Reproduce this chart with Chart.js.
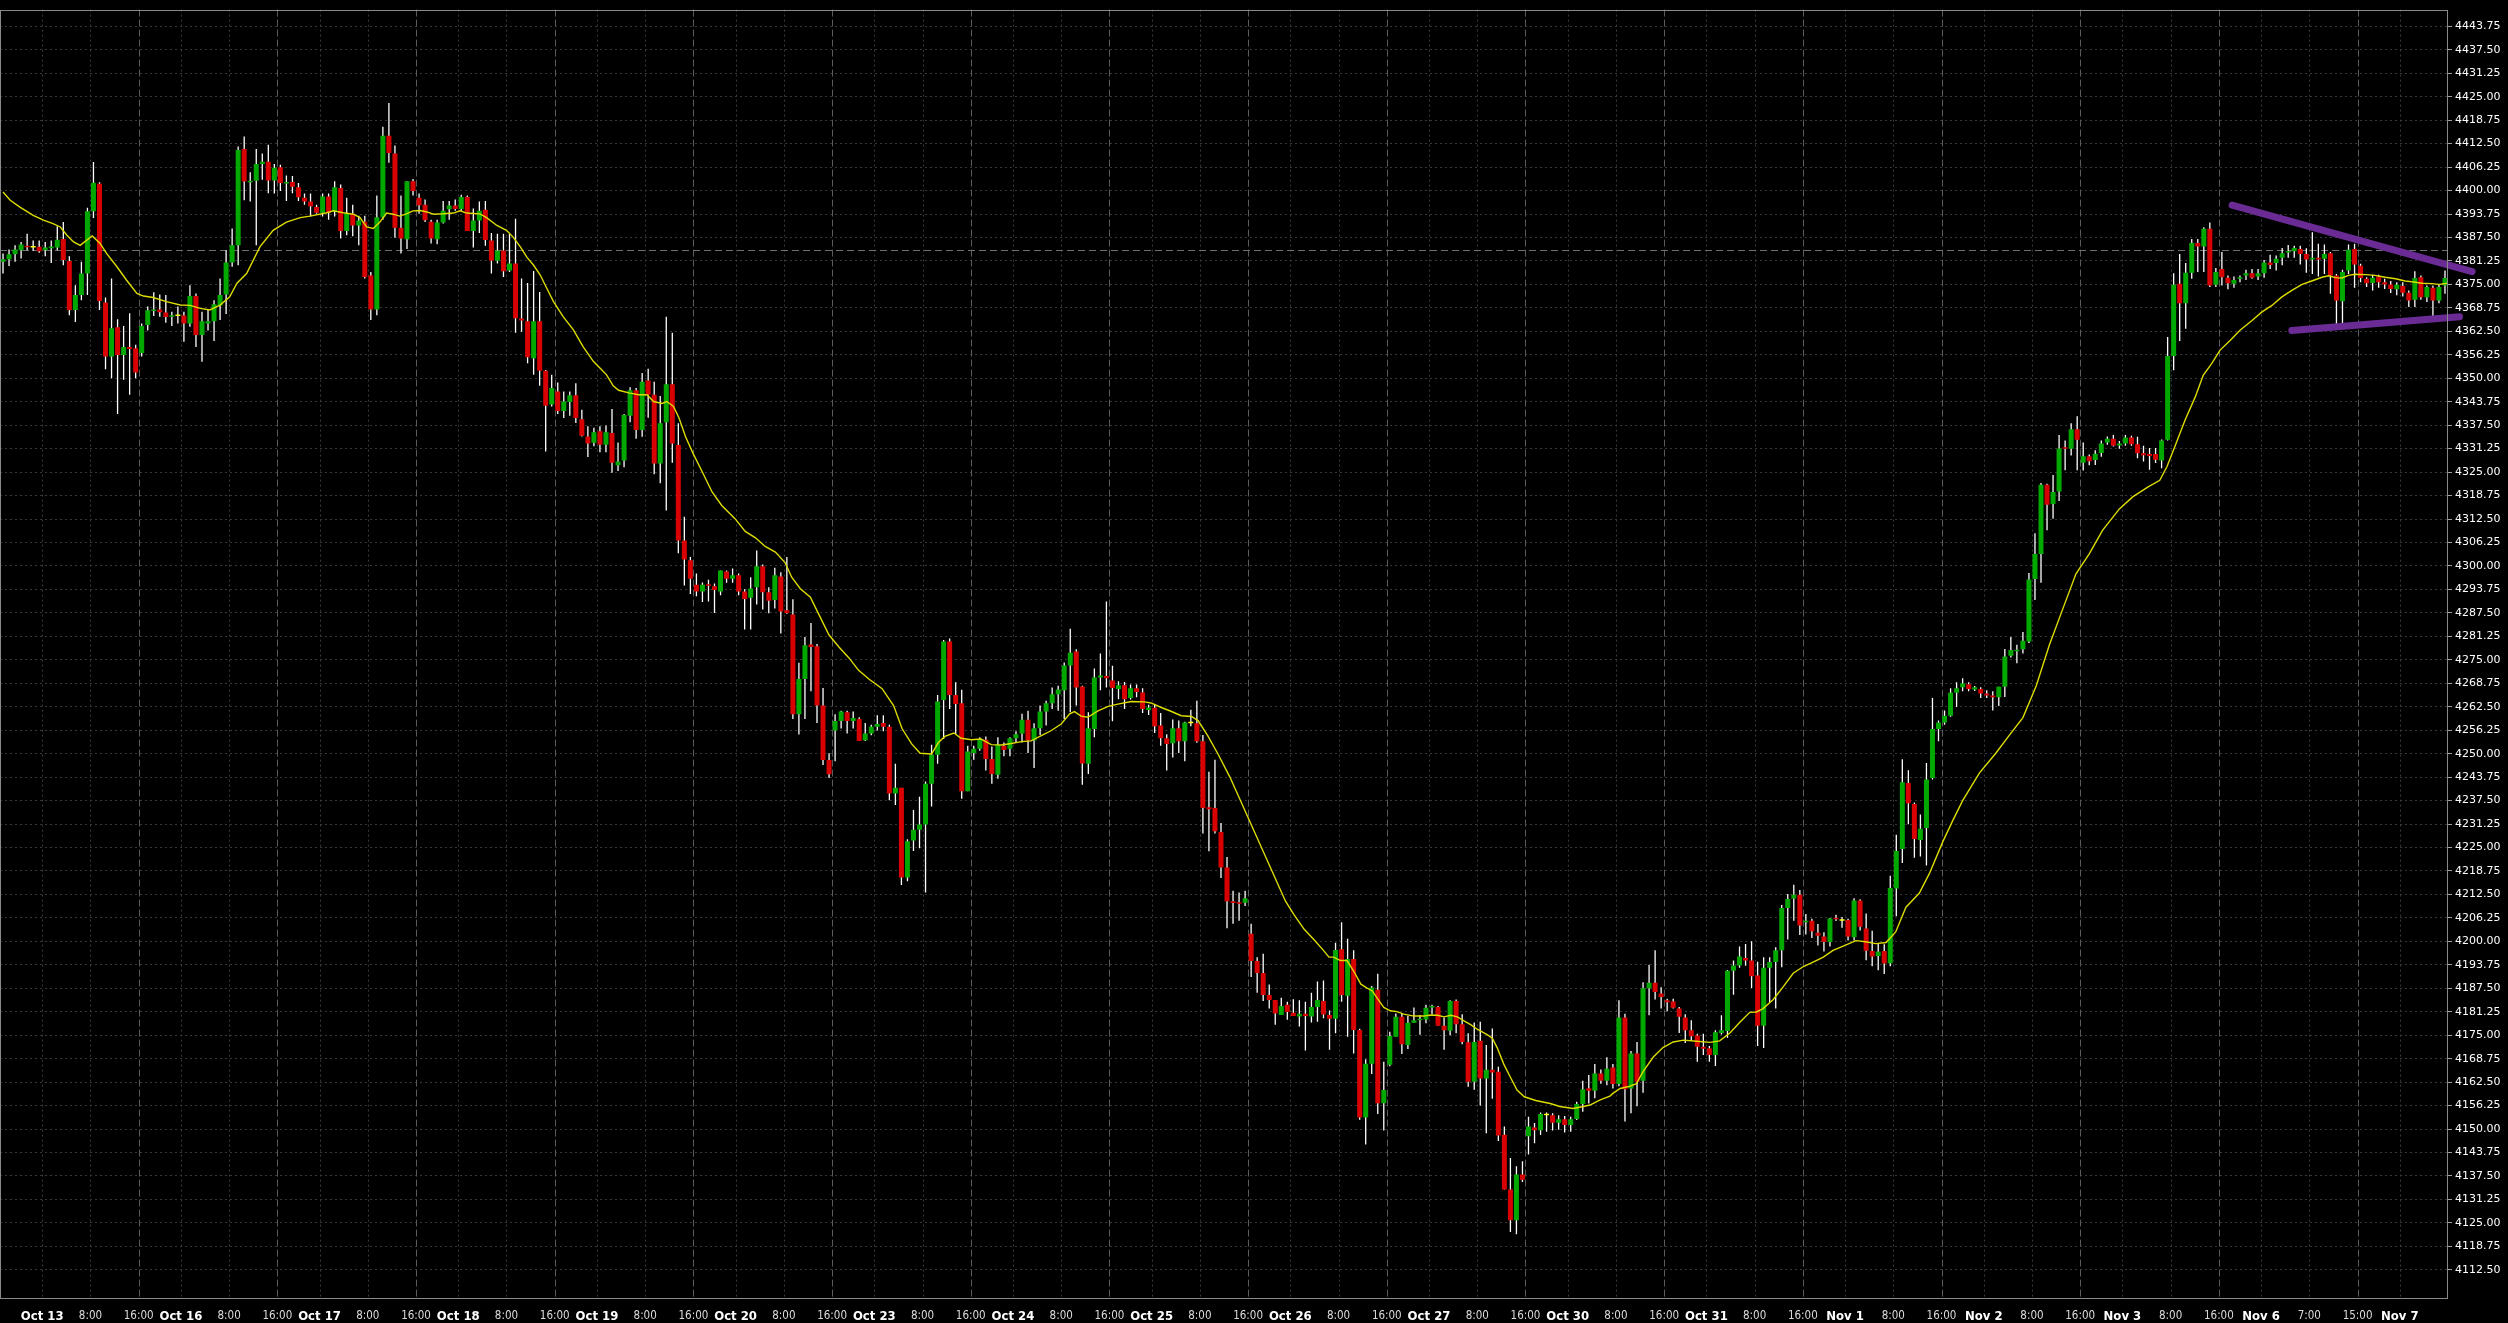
<!DOCTYPE html>
<html>
<head>
<meta charset="utf-8">
<title>ES hourly</title>
<script src="https://cdn.jsdelivr.net/npm/chart.js@4.4.1/dist/chart.umd.min.js"></script>
<style>
    html, body { margin: 0; padding: 0; background: #000; }
    #wrap { width: 2508px; height: 1323px; }
</style>
</head>
<body>
<div id="wrap"><canvas id="chart" width="2508" height="1323"></canvas></div>
<script>
// Hourly bars, Oct 12 18:00 -> Nov 7 (406 bars)
const opens = [
    4381.0, 4381.7, 4383.0, 4384.1, 4385.3, 4384.8, 4385.0, 4384.1, 4384.6, 4384.8,
    4387.1, 4381.2, 4368.2, 4372.2, 4377.9, 4394.5, 4401.8, 4370.2, 4355.8, 4363.6,
    4356.2, 4358.3, 4358.0, 4356.7, 4364.2, 4367.9, 4368.3, 4367.5, 4366.4, 4366.6,
    4366.7, 4364.6, 4371.9, 4361.5, 4364.6, 4365.2, 4369.4, 4372.3, 4380.8, 4385.4,
    4411.1, 4402.2, 4402.6, 4407.1, 4407.7, 4402.7, 4406.2, 4401.9, 4402.3, 4400.9,
    4398.1, 4397.1, 4395.6, 4394.1, 4398.4, 4394.5, 4400.7, 4389.2, 4393.8, 4390.7,
    4391.7, 4377.4, 4368.3, 4392.9, 4414.6, 4409.9, 4390.1, 4387.0, 4402.5, 4398.1,
    4396.2, 4391.7, 4387.0, 4391.5, 4395.0, 4396.0, 4395.1, 4398.3, 4389.2, 4392.0,
    4394.9, 4386.7, 4381.3, 4384.0, 4378.7, 4380.6, 4365.9, 4365.2, 4355.3, 4365.2,
    4352.0, 4343.0, 4346.5, 4341.3, 4343.7, 4345.5, 4339.1, 4334.5, 4332.8, 4335.9,
    4332.3, 4335.4, 4326.8, 4328.1, 4340.0, 4346.8, 4336.2, 4349.4, 4345.6, 4327.3,
    4338.3, 4348.4, 4332.2, 4306.8, 4301.5, 4295.0, 4293.2, 4295.1, 4294.6, 4293.2,
    4298.5, 4296.6, 4297.5, 4293.2, 4291.5, 4294.3, 4299.9, 4293.0, 4290.9, 4297.2,
    4288.2, 4287.1, 4260.5, 4269.9, 4279.1, 4278.6, 4262.8, 4248.3, 4256.2, 4258.7,
    4261.0, 4258.7, 4259.2, 4253.6, 4255.4, 4257.2, 4258.2, 4257.2, 4239.4, 4240.9,
    4217.0, 4226.9, 4229.7, 4231.1, 4242.0, 4249.7, 4264.3, 4279.9, 4265.6, 4263.4,
    4240.0, 4250.2, 4251.3, 4253.7, 4248.6, 4244.4, 4252.1, 4251.3, 4254.1, 4255.4,
    4259.0, 4253.5, 4256.8, 4261.2, 4263.4, 4265.8, 4266.9, 4273.5, 4277.2, 4267.9,
    4247.3, 4256.6, 4270.3, 4270.7, 4269.5, 4267.2, 4268.2, 4264.8, 4267.4, 4266.3,
    4261.6, 4262.2, 4257.5, 4254.1, 4252.8, 4256.8, 4253.3, 4258.1, 4258.1, 4253.3,
    4235.7, 4235.5, 4229.1, 4219.7, 4210.7, 4210.4, 4210.3, 4202.0, 4194.8, 4191.6,
    4185.7, 4184.4, 4180.4, 4183.1, 4181.0, 4180.0, 4180.7, 4180.0, 4182.5, 4184.1,
    4180.4, 4179.4, 4197.9, 4185.5, 4195.3, 4176.4, 4153.1, 4167.4, 4187.1, 4156.9,
    4167.1, 4174.6, 4179.9, 4172.4, 4178.3, 4179.0, 4179.2, 4182.4, 4182.5, 4177.5,
    4176.2, 4184.1, 4177.9, 4173.1, 4162.6, 4173.5, 4163.5, 4165.8, 4165.3, 4148.5,
    4133.9, 4125.7, 4137.9, 4148.1, 4150.4, 4149.7, 4153.7, 4153.7, 4151.7, 4152.6,
    4151.1, 4152.7, 4156.7, 4160.9, 4160.2, 4164.8, 4162.9, 4166.4, 4162.0, 4179.7,
    4160.8, 4170.1, 4162.9, 4187.5, 4189.0, 4186.1, 4184.3, 4184.0, 4182.1, 4179.7,
    4176.3, 4174.9, 4171.9, 4171.5, 4169.7, 4175.6, 4176.1, 4192.2, 4193.6, 4195.6,
    4194.9, 4190.9, 4177.5, 4193.0, 4194.5, 4197.6, 4208.9, 4211.4, 4212.4, 4205.1,
    4205.5, 4202.3, 4201.3, 4199.8, 4206.2, 4205.5, 4205.7, 4201.1, 4210.9, 4203.4,
    4197.4, 4196.1, 4197.4, 4194.2, 4214.1, 4224.6, 4242.2, 4236.6, 4227.0, 4230.2,
    4243.5, 4256.6, 4258.3, 4260.1, 4266.2, 4267.7, 4268.5, 4267.1, 4267.2, 4266.0,
    4265.5, 4265.0, 4267.8, 4276.1, 4277.3, 4277.8, 4279.9, 4296.5, 4303.2, 4321.6,
    4316.5, 4319.8, 4331.6, 4331.2, 4336.4, 4327.5, 4329.2, 4328.2, 4330.1, 4332.9,
    4333.9, 4332.1, 4332.6, 4334.2, 4332.4, 4330.0, 4329.8, 4329.8, 4328.1, 4333.6,
    4355.9, 4375.2, 4370.0, 4378.1, 4386.0, 4385.1, 4389.8, 4374.9, 4379.1, 4376.8,
    4375.2, 4376.5, 4377.4, 4378.0, 4377.1, 4378.0, 4380.8, 4380.7, 4382.1, 4383.5,
    4383.8, 4384.4, 4383.1, 4381.6, 4382.1, 4381.8, 4383.3, 4377.4, 4370.5, 4378.7,
    4384.4, 4380.0, 4376.5, 4375.4, 4377.1, 4375.6, 4375.0, 4373.7, 4374.6, 4372.8,
    4370.9, 4376.9, 4371.6, 4374.1, 4370.7, 4374.7
];
const highs = [
    4383.2, 4384.3, 4385.4, 4386.3, 4388.5, 4386.7, 4386.7, 4386.3, 4386.7, 4390.5,
    4391.6, 4382.5, 4374.8, 4381.0, 4395.4, 4407.6, 4402.2, 4371.5, 4376.6, 4365.7,
    4363.9, 4367.3, 4358.9, 4364.6, 4369.1, 4372.9, 4372.3, 4372.2, 4367.7, 4369.1,
    4367.7, 4374.8, 4372.6, 4367.7, 4368.2, 4370.8, 4376.6, 4384.1, 4389.9, 4411.7,
    4414.4, 4404.9, 4411.1, 4409.9, 4412.2, 4407.1, 4406.9, 4404.0, 4403.9, 4402.0,
    4399.2, 4399.2, 4396.2, 4399.2, 4399.2, 4402.5, 4401.6, 4398.1, 4396.2, 4393.3,
    4393.3, 4378.3, 4398.7, 4417.0, 4423.3, 4412.0, 4398.7, 4402.5, 4403.1, 4399.2,
    4397.6, 4392.2, 4392.2, 4397.2, 4397.2, 4397.6, 4398.9, 4398.7, 4395.2, 4397.1,
    4397.2, 4388.7, 4388.5, 4388.5, 4388.5, 4392.5, 4376.6, 4375.4, 4378.6, 4373.0,
    4352.2, 4350.9, 4348.9, 4346.5, 4346.5, 4348.7, 4341.6, 4337.2, 4336.8, 4337.2,
    4337.4, 4341.8, 4332.9, 4340.5, 4347.6, 4347.4, 4351.4, 4352.5, 4349.1, 4345.3,
    4366.4, 4362.1, 4338.0, 4313.1, 4302.4, 4298.0, 4295.6, 4296.3, 4295.3, 4298.8,
    4298.8, 4299.3, 4298.0, 4293.8, 4297.0, 4304.1, 4300.4, 4294.3, 4299.5, 4298.3,
    4302.4, 4291.1, 4274.2, 4281.1, 4284.8, 4279.2, 4267.5, 4250.1, 4260.5, 4261.4,
    4261.4, 4261.2, 4259.7, 4258.2, 4257.7, 4260.2, 4260.2, 4257.7, 4247.3, 4240.9,
    4227.2, 4235.0, 4238.5, 4242.6, 4252.4, 4265.6, 4280.3, 4280.7, 4269.0, 4267.0,
    4252.1, 4252.1, 4254.4, 4254.6, 4251.9, 4254.4, 4253.0, 4254.4, 4256.0, 4260.6,
    4261.4, 4258.1, 4262.8, 4264.1, 4267.6, 4268.1, 4274.3, 4283.3, 4277.8, 4268.1,
    4261.0, 4272.7, 4276.7, 4290.5, 4273.4, 4269.3, 4269.1, 4268.4, 4268.4, 4267.4,
    4263.0, 4263.2, 4260.8, 4255.2, 4259.1, 4258.8, 4258.5, 4261.7, 4264.1, 4255.0,
    4245.2, 4248.4, 4231.5, 4222.5, 4213.5, 4213.0, 4213.5, 4204.7, 4195.8, 4196.7,
    4188.5, 4184.4, 4185.0, 4183.9, 4184.6, 4184.3, 4183.9, 4186.3, 4189.3, 4189.6,
    4181.6, 4199.6, 4205.1, 4200.7, 4197.6, 4176.7, 4168.6, 4188.1, 4191.4, 4167.9,
    4175.9, 4180.8, 4180.8, 4180.1, 4182.4, 4180.4, 4183.1, 4183.1, 4182.8, 4179.7,
    4184.3, 4184.5, 4180.6, 4175.5, 4178.4, 4178.6, 4172.4, 4176.8, 4166.6, 4150.7,
    4142.3, 4140.1, 4141.4, 4153.3, 4151.6, 4154.4, 4154.4, 4154.2, 4153.7, 4153.5,
    4153.3, 4157.3, 4162.9, 4164.4, 4167.3, 4165.9, 4169.1, 4167.3, 4184.3, 4180.7,
    4170.8, 4173.2, 4189.1, 4193.8, 4197.6, 4187.8, 4184.7, 4184.7, 4182.5, 4180.6,
    4179.0, 4175.4, 4175.4, 4172.1, 4176.3, 4180.3, 4192.4, 4194.9, 4198.6, 4199.3,
    4200.0, 4194.6, 4195.8, 4195.8, 4198.4, 4209.7, 4212.6, 4215.1, 4213.7, 4207.3,
    4206.0, 4204.6, 4202.4, 4206.2, 4207.1, 4206.5, 4206.0, 4211.5, 4211.2, 4207.4,
    4202.8, 4199.4, 4199.2, 4217.5, 4228.4, 4248.5, 4245.6, 4237.0, 4233.8, 4247.5,
    4264.8, 4258.8, 4261.5, 4267.4, 4269.0, 4270.1, 4269.0, 4268.0, 4267.7, 4266.9,
    4266.6, 4267.8, 4277.9, 4281.1, 4279.0, 4282.4, 4298.1, 4308.7, 4322.1, 4321.9,
    4324.2, 4334.9, 4333.4, 4338.0, 4339.9, 4332.9, 4329.7, 4330.8, 4333.4, 4334.5,
    4334.9, 4333.3, 4334.9, 4334.7, 4334.4, 4332.0, 4331.4, 4331.4, 4333.7, 4361.0,
    4378.0, 4383.1, 4380.7, 4387.1, 4387.1, 4390.2, 4391.5, 4379.4, 4383.6, 4377.4,
    4377.1, 4377.4, 4378.9, 4379.1, 4379.1, 4381.5, 4382.9, 4382.7, 4384.7, 4385.5,
    4385.3, 4385.3, 4384.6, 4388.9, 4385.8, 4385.6, 4383.6, 4377.8, 4378.9, 4385.6,
    4385.8, 4380.5, 4376.9, 4377.6, 4377.6, 4376.5, 4375.9, 4375.6, 4375.6, 4373.4,
    4378.5, 4377.4, 4374.7, 4374.7, 4375.0, 4378.7
];
const lows = [
    4377.9, 4379.9, 4381.0, 4381.9, 4384.1, 4383.9, 4383.4, 4382.5, 4380.7, 4384.1,
    4380.1, 4366.8, 4365.0, 4370.8, 4372.2, 4392.7, 4368.2, 4352.4, 4350.0, 4340.5,
    4349.6, 4345.6, 4350.0, 4355.8, 4362.7, 4366.6, 4366.4, 4364.8, 4363.9, 4364.6,
    4359.7, 4363.7, 4358.3, 4354.4, 4362.7, 4359.9, 4365.5, 4367.1, 4379.7, 4380.1,
    4397.4, 4397.1, 4385.4, 4402.9, 4399.3, 4399.2, 4399.9, 4397.2, 4399.3, 4397.2,
    4396.2, 4393.1, 4393.8, 4393.1, 4392.2, 4393.1, 4387.2, 4388.1, 4387.8, 4385.4,
    4376.6, 4365.5, 4366.8, 4392.2, 4407.4, 4387.4, 4383.2, 4384.4, 4398.7, 4393.8,
    4391.6, 4385.9, 4385.7, 4391.2, 4392.2, 4394.6, 4394.6, 4389.2, 4384.8, 4388.7,
    4385.3, 4377.9, 4380.6, 4377.0, 4378.3, 4362.1, 4362.4, 4354.0, 4350.9, 4348.0,
    4330.5, 4342.5, 4340.5, 4339.4, 4340.0, 4338.1, 4334.5, 4329.0, 4331.9, 4330.3,
    4330.3, 4324.8, 4325.3, 4326.3, 4338.3, 4333.9, 4334.4, 4339.5, 4324.4, 4322.0,
    4314.8, 4327.5, 4303.4, 4294.8, 4292.5, 4291.9, 4290.4, 4290.5, 4287.5, 4292.2,
    4295.5, 4295.5, 4292.2, 4283.1, 4283.1, 4289.7, 4288.4, 4287.4, 4288.7, 4282.0,
    4287.3, 4259.2, 4255.1, 4259.2, 4266.6, 4258.2, 4247.0, 4243.5, 4248.0, 4256.7,
    4255.4, 4256.7, 4253.4, 4253.4, 4254.9, 4256.2, 4256.0, 4237.6, 4236.3, 4215.0,
    4216.0, 4224.1, 4224.8, 4213.0, 4235.9, 4247.3, 4253.9, 4261.9, 4255.2, 4238.0,
    4240.0, 4248.4, 4250.8, 4245.5, 4242.0, 4243.3, 4249.3, 4249.3, 4252.9, 4253.0,
    4250.2, 4246.2, 4255.0, 4257.5, 4261.9, 4261.4, 4259.2, 4261.0, 4262.8, 4241.7,
    4244.6, 4254.4, 4266.9, 4267.6, 4258.6, 4264.5, 4261.9, 4264.4, 4265.0, 4260.8,
    4260.3, 4255.5, 4252.1, 4245.5, 4249.0, 4250.2, 4248.0, 4257.3, 4252.9, 4228.7,
    4224.0, 4228.7, 4216.9, 4203.5, 4204.7, 4205.5, 4209.4, 4190.5, 4186.3, 4184.1,
    4182.1, 4177.8, 4180.4, 4179.1, 4180.1, 4177.3, 4170.9, 4178.4, 4178.6, 4179.5,
    4171.1, 4175.5, 4183.9, 4174.6, 4170.1, 4152.5, 4145.9, 4164.7, 4154.0, 4149.6,
    4166.7, 4174.6, 4170.0, 4171.3, 4178.3, 4175.1, 4178.2, 4180.6, 4177.5, 4171.1,
    4175.0, 4175.5, 4172.6, 4161.3, 4160.5, 4156.3, 4148.9, 4158.1, 4146.8, 4133.9,
    4122.6, 4122.0, 4135.9, 4143.2, 4146.2, 4148.4, 4149.3, 4149.6, 4149.8, 4149.1,
    4149.3, 4152.4, 4154.6, 4156.8, 4158.2, 4162.1, 4161.7, 4160.8, 4161.4, 4152.0,
    4154.2, 4156.1, 4159.7, 4180.3, 4184.5, 4182.1, 4181.4, 4182.1, 4175.6, 4172.9,
    4173.5, 4167.9, 4169.7, 4167.9, 4166.8, 4175.2, 4174.3, 4185.8, 4193.0, 4193.5,
    4187.6, 4172.1, 4171.6, 4183.8, 4182.1, 4193.1, 4200.5, 4205.5, 4201.7, 4201.8,
    4200.9, 4198.9, 4197.3, 4198.6, 4205.4, 4203.6, 4200.2, 4200.2, 4202.9, 4195.0,
    4193.4, 4192.3, 4191.3, 4193.4, 4206.7, 4220.9, 4231.2, 4222.3, 4222.6, 4220.2,
    4243.1, 4253.3, 4257.7, 4259.8, 4262.4, 4266.6, 4266.6, 4266.7, 4264.8, 4264.8,
    4261.5, 4262.7, 4265.1, 4275.6, 4274.1, 4276.7, 4279.5, 4290.9, 4295.5, 4309.5,
    4312.6, 4317.3, 4325.5, 4329.4, 4325.5, 4325.4, 4326.8, 4326.9, 4329.1, 4332.3,
    4331.8, 4331.2, 4332.0, 4332.0, 4328.7, 4327.8, 4325.6, 4327.4, 4326.0, 4333.4,
    4352.1, 4359.9, 4363.2, 4376.5, 4378.3, 4378.3, 4374.3, 4374.3, 4374.7, 4373.7,
    4374.1, 4375.6, 4376.2, 4376.5, 4376.2, 4376.8, 4379.1, 4378.7, 4380.1, 4382.1,
    4382.1, 4380.3, 4378.1, 4377.8, 4377.1, 4377.8, 4372.5, 4364.1, 4364.3, 4377.8,
    4374.1, 4375.6, 4374.3, 4373.4, 4374.1, 4373.8, 4372.7, 4372.1, 4371.8, 4369.0,
    4369.0, 4370.9, 4370.3, 4366.5, 4370.0, 4372.5
];
const closes = [
    4381.7, 4383.0, 4384.3, 4385.6, 4384.9, 4384.8, 4383.8, 4384.8, 4385.1, 4386.9,
    4381.5, 4368.2, 4372.2, 4377.9, 4394.5, 4402.1, 4370.6, 4355.8, 4363.3, 4356.2,
    4358.3, 4357.8, 4351.5, 4363.9, 4368.1, 4368.3, 4367.6, 4366.3, 4366.8, 4366.6,
    4364.6, 4371.9, 4361.5, 4365.2, 4365.2, 4369.7, 4372.2, 4380.8, 4385.4, 4410.8,
    4402.4, 4402.6, 4407.1, 4407.7, 4402.7, 4406.1, 4402.0, 4402.3, 4401.0, 4398.2,
    4397.1, 4395.8, 4394.1, 4398.4, 4394.1, 4400.9, 4389.2, 4393.8, 4390.7, 4392.0,
    4377.0, 4368.3, 4392.9, 4414.6, 4410.0, 4390.1, 4387.2, 4402.5, 4399.9, 4396.1,
    4392.1, 4387.2, 4391.5, 4394.6, 4396.0, 4395.1, 4398.3, 4389.2, 4392.0, 4394.6,
    4386.8, 4381.3, 4384.0, 4378.5, 4380.6, 4366.0, 4365.4, 4355.6, 4365.2, 4352.0,
    4342.7, 4347.4, 4341.3, 4343.8, 4345.5, 4339.4, 4334.7, 4332.6, 4335.6, 4332.3,
    4335.6, 4327.5, 4327.8, 4340.2, 4346.8, 4336.2, 4349.1, 4345.6, 4327.3, 4338.0,
    4348.4, 4332.6, 4306.8, 4301.7, 4296.6, 4293.2, 4295.0, 4294.7, 4293.6, 4298.8,
    4296.6, 4297.5, 4293.2, 4291.2, 4294.0, 4299.9, 4293.0, 4290.7, 4297.5, 4287.9,
    4287.5, 4260.5, 4269.9, 4278.9, 4278.4, 4262.8, 4248.3, 4244.5, 4258.7, 4261.2,
    4258.7, 4259.5, 4253.4, 4255.4, 4257.2, 4257.9, 4257.2, 4239.4, 4240.9, 4217.0,
    4226.7, 4229.7, 4231.1, 4242.0, 4249.7, 4263.9, 4279.9, 4265.6, 4263.2, 4240.0,
    4250.6, 4251.3, 4253.7, 4248.6, 4244.6, 4252.4, 4251.0, 4254.1, 4255.2, 4259.0,
    4253.5, 4256.8, 4261.2, 4263.4, 4265.8, 4267.1, 4273.5, 4276.9, 4267.6, 4247.4,
    4256.8, 4270.3, 4270.8, 4270.1, 4267.5, 4268.2, 4264.5, 4267.4, 4266.4, 4261.9,
    4262.3, 4257.3, 4254.1, 4252.6, 4256.8, 4253.3, 4258.3, 4258.1, 4253.3, 4235.5,
    4235.2, 4229.3, 4219.7, 4210.7, 4210.2, 4210.0, 4211.5, 4194.8, 4191.6, 4185.7,
    4184.4, 4180.8, 4182.8, 4181.2, 4180.1, 4180.7, 4180.1, 4182.5, 4184.4, 4180.5,
    4179.4, 4197.7, 4185.7, 4195.3, 4176.4, 4153.1, 4167.4, 4187.7, 4156.9, 4160.4,
    4174.8, 4179.9, 4172.6, 4178.3, 4179.0, 4179.4, 4182.3, 4182.8, 4177.5, 4176.3,
    4184.1, 4177.9, 4173.2, 4162.6, 4173.2, 4163.5, 4165.8, 4165.1, 4148.3, 4133.9,
    4125.7, 4137.9, 4136.5, 4150.7, 4149.7, 4154.0, 4153.7, 4151.7, 4152.6, 4151.1,
    4152.6, 4156.7, 4160.6, 4160.2, 4164.8, 4162.9, 4166.1, 4162.0, 4179.7, 4160.6,
    4170.1, 4162.6, 4187.5, 4189.0, 4186.5, 4185.2, 4183.8, 4182.3, 4179.9, 4176.3,
    4174.7, 4171.9, 4171.4, 4169.7, 4175.8, 4176.3, 4192.2, 4193.6, 4196.0, 4194.9,
    4190.7, 4177.5, 4193.0, 4194.5, 4197.6, 4208.9, 4211.3, 4212.4, 4204.2, 4205.5,
    4202.7, 4201.5, 4199.8, 4206.1, 4205.9, 4205.5, 4201.3, 4210.9, 4203.9, 4197.5,
    4196.0, 4197.2, 4194.1, 4214.2, 4224.1, 4242.4, 4236.8, 4227.3, 4230.0, 4243.1,
    4256.6, 4258.3, 4260.1, 4266.2, 4267.4, 4268.7, 4267.2, 4267.7, 4266.0, 4265.5,
    4265.0, 4267.8, 4275.9, 4277.6, 4277.7, 4280.1, 4296.4, 4303.2, 4321.6, 4316.3,
    4319.7, 4331.3, 4331.2, 4336.4, 4333.6, 4329.2, 4327.9, 4329.9, 4332.6, 4333.9,
    4332.0, 4332.6, 4334.2, 4332.4, 4330.0, 4329.5, 4329.3, 4328.3, 4333.4, 4355.9,
    4374.9, 4370.0, 4378.1, 4386.0, 4385.1, 4389.8, 4374.7, 4378.3, 4376.9, 4375.3,
    4376.2, 4376.9, 4378.0, 4376.8, 4378.0, 4380.8, 4380.2, 4381.8, 4383.3, 4383.8,
    4384.7, 4383.1, 4381.6, 4382.1, 4381.6, 4383.1, 4377.4, 4370.7, 4378.3, 4384.2,
    4380.3, 4376.7, 4375.3, 4376.8, 4375.6, 4375.0, 4373.8, 4374.9, 4372.8, 4370.7,
    4376.7, 4371.6, 4374.3, 4370.7, 4374.3, 4376.7
];

// moving average: bar position -> value
const maIndex = [
    0, 1.2, 2.8, 5.0, 6.7, 8.3, 9.5, 10.6, 11.7, 12.8, 13.9, 14.8, 16.1, 17.2, 18.9, 20.5,
    22.2, 23.3, 24.9, 27.1, 29.4, 31.0, 32.7, 34.3, 36.0, 37.6, 38.8, 40.4, 42.6, 44.8,
    47.0, 49.3, 50.9, 53.7, 54.8, 56.4, 58.1, 59.2, 60.3, 61.4, 62.5, 63.6, 64.7, 65.8,
    66.9, 68.0, 69.2, 70.3, 71.4, 73.0, 74.7, 75.8, 76.9, 79.1, 80.2, 81.9, 83.5, 84.6,
    85.8, 86.9, 88.0, 89.1, 90.2, 91.3, 92.9, 94.6, 96.2, 97.9, 99.0, 100.1, 101.2,
    102.1, 103.8, 105.4, 106.8, 107.9, 109.3, 110.1, 111.2, 112.1, 113.2, 114.5, 115.9,
    117.6, 119.2, 121.4, 123.1, 124.8, 126.4, 128.1, 129.7, 130.8, 132.2, 133.9, 135.3,
    137.0, 138.6, 140.3, 141.9, 143.6, 145.8, 147.7, 149.1, 150.7, 152.1, 154.0, 155.1,
    156.2, 157.7, 158.9, 160.6, 162.2, 163.9, 165.6, 167.2, 168.9, 170.5, 172.2, 173.8,
    175.5, 176.9, 177.7, 178.8, 179.9, 181.6, 183.3, 184.9, 187.1, 189.3, 190.4, 192.1,
    193.7, 195.4, 197.1, 198.2, 199.8, 201.5, 203.5, 212.7, 214.1, 215.8, 217.4, 219.1,
    219.9, 220.7, 221.8, 222.9, 224.0, 225.2, 226.3, 227.1, 227.9, 229.0, 230.1, 231.2,
    232.3, 234.0, 235.6, 236.8, 237.9, 239.0, 240.1, 241.2, 242.3, 243.4, 244.5, 246.2,
    247.0, 247.8, 248.9, 250.0, 251.1, 252.3, 254.2, 256.6, 258.2, 260.4, 262.1, 263.2,
    264.8, 266.5, 267.0, 268.2, 269.8, 270.9, 272.0, 273.7, 275.3, 277.0, 278.7, 280.9,
    283.1, 284.7, 286.4, 288.1, 289.7, 290.8, 291.9, 293.6, 295.2, 296.9, 298.6, 300.2,
    301.9, 303.5, 305.0, 307.3, 308.9, 310.6, 312.3, 313.9, 315.6, 317.8, 319.5, 321.7,
    323.4, 325.0, 327.8, 330.5, 332.7, 335.0, 337.2, 339.4, 341.6, 343.8, 346.0, 348.2,
    351.0, 353.2, 355.7, 357.7, 358.9, 360.3, 361.9, 363.6, 364.9, 366.3, 367.7, 369.4,
    371.0, 373.0, 374.6, 376.3, 377.9, 379.6, 381.3, 382.9, 384.6, 385.7, 386.8, 387.9,
    389.0, 390.1, 391.8, 393.4, 395.1, 396.8, 398.4, 399.5, 401.2, 402.9, 404.0, 405.5
];
const maValue = [
    4399.6, 4397.4, 4395.6, 4393.4, 4392.1, 4391.2, 4390.3, 4388.1, 4386.3, 4385.4, 4386.8, 4387.9, 4385.9, 4383.2, 4379.7, 4376.1,
    4372.6, 4371.9, 4371.5, 4370.4, 4369.5, 4369.4, 4368.6, 4368.2, 4369.5, 4371.7, 4375.3, 4377.9, 4385.0, 4389.4,
    4391.6, 4392.8, 4393.2, 4394.1, 4394.6, 4394.1, 4393.7, 4392.8, 4390.3, 4389.9, 4391.6, 4394.0, 4393.7, 4393.2,
    4393.8, 4394.6, 4394.7, 4394.3, 4393.7, 4393.8, 4394.0, 4394.6, 4394.0, 4393.8, 4392.8, 4390.7, 4389.4, 4387.6,
    4385.0, 4382.2, 4380.1, 4377.5, 4373.9, 4370.4, 4366.4, 4362.9, 4358.4, 4354.5, 4352.7, 4350.9, 4348.0,
    4346.8, 4346.1, 4345.6, 4345.6, 4343.8, 4343.3, 4343.8, 4342.5, 4339.5, 4334.4, 4329.8, 4325.3,
    4319.7, 4316.1, 4312.6, 4309.2, 4307.5, 4305.2, 4303.7, 4300.9, 4297.0, 4294.0, 4291.7, 4287.1,
    4281.6, 4278.5, 4275.5, 4272.2, 4269.9, 4267.3, 4262.8, 4256.7, 4252.6, 4250.1, 4249.9, 4252.9,
    4254.6, 4255.5, 4254.1, 4253.7, 4253.9, 4252.4, 4252.3, 4252.7, 4253.2, 4253.4, 4254.8, 4256.1,
    4257.9, 4260.6, 4261.2, 4260.0, 4259.7, 4261.4, 4262.6, 4263.2, 4263.9, 4263.8, 4263.5, 4262.3,
    4261.3, 4260.1, 4259.9, 4258.8, 4254.8, 4249.9, 4243.7, 4210.7, 4207.1, 4203.2, 4200.5, 4197.4,
    4195.8, 4195.8, 4194.9, 4194.9, 4192.1, 4188.6, 4187.5, 4186.8, 4184.9, 4182.4, 4181.5, 4181.3,
    4180.6, 4180.1, 4180.1, 4180.4, 4180.3, 4179.9, 4180.3, 4179.9, 4178.8, 4177.8, 4176.6, 4175.1,
    4174.2, 4171.7, 4167.3, 4163.8, 4160.4, 4158.6, 4157.6, 4156.8, 4156.0, 4155.5, 4156.0, 4156.4,
    4157.7, 4158.8, 4159.5, 4160.8, 4161.4, 4162.1, 4165.3, 4169.2, 4171.7, 4173.2, 4173.7, 4173.4,
    4173.1, 4173.5, 4175.6, 4178.5, 4181.1, 4181.2, 4182.1, 4184.5, 4187.8, 4191.5, 4193.3, 4194.5,
    4195.8, 4197.6, 4198.6, 4200.2, 4199.9, 4199.4, 4199.7, 4202.5, 4209.1, 4212.8, 4218.1, 4226.5,
    4232.3, 4237.5, 4244.9, 4250.1, 4254.8, 4259.6, 4268.0, 4279.0, 4288.5, 4297.9, 4303.2, 4309.5,
    4315.2, 4318.4, 4321.0, 4322.8, 4326.5, 4332.2, 4338.9, 4345.1, 4350.8, 4353.9, 4357.5, 4360.1,
    4362.8, 4365.4, 4367.6, 4369.4, 4371.6, 4373.4, 4375.0, 4375.9, 4376.9, 4377.3, 4376.8, 4376.7,
    4377.4, 4377.7, 4377.6, 4377.4, 4376.9, 4376.5, 4375.9, 4375.7, 4375.3, 4375.2, 4375.0, 4375.3
];

// hand-drawn trend lines (bar position, price)
const upperTrendX = [369.7, 409.5];
const upperTrendY = [4396.1, 4378.4];
const lowerTrendX = [379.6, 407.4];
const lowerTrendY = [4362.7, 4366.4];

// dashed horizontal level
const refLevel = 4384.25;

// time axis labels, placed between bars
const xTickPos = [
    6.5, 14.5, 22.5, 29.5, 37.5, 45.5, 52.5, 60.5, 68.5, 75.5, 83.5, 91.5, 98.5,
    106.5, 114.5, 121.5, 129.5, 137.5, 144.5, 152.5, 160.5, 167.5, 175.5, 183.5,
    190.5, 198.5, 206.5, 213.5, 221.5, 229.5, 236.5, 244.5, 252.5, 259.5, 267.5,
    275.5, 282.5, 290.5, 298.5, 305.5, 313.5, 321.5, 328.5, 336.5, 344.5, 351.5,
    359.5, 367.5, 374.5, 382.5, 390.5, 397.5
];
const xTickLabels = [
    'Oct 13', '8:00', '16:00', 'Oct 16', '8:00', '16:00', 'Oct 17', '8:00', '16:00',
    'Oct 18', '8:00', '16:00', 'Oct 19', '8:00', '16:00', 'Oct 20', '8:00', '16:00',
    'Oct 23', '8:00', '16:00', 'Oct 24', '8:00', '16:00', 'Oct 25', '8:00', '16:00',
    'Oct 26', '8:00', '16:00', 'Oct 27', '8:00', '16:00', 'Oct 30', '8:00', '16:00',
    'Oct 31', '8:00', '16:00', 'Nov 1', '8:00', '16:00', 'Nov 2', '8:00', '16:00',
    'Nov 3', '8:00', '16:00', 'Nov 6', '7:00', '15:00', 'Nov 7'
];
const sessionCloseLabels = ['16:00', '15:00'];

const yTickValues = [
    4112.50, 4118.75, 4125.00, 4131.25, 4137.50, 4143.75, 4150.00, 4156.25, 4162.50,
    4168.75, 4175.00, 4181.25, 4187.50, 4193.75, 4200.00, 4206.25, 4212.50, 4218.75,
    4225.00, 4231.25, 4237.50, 4243.75, 4250.00, 4256.25, 4262.50, 4268.75, 4275.00,
    4281.25, 4287.50, 4293.75, 4300.00, 4306.25, 4312.50, 4318.75, 4325.00, 4331.25,
    4337.50, 4343.75, 4350.00, 4356.25, 4362.50, 4368.75, 4375.00, 4381.25, 4387.50,
    4393.75, 4400.00, 4406.25, 4412.50, 4418.75, 4425.00, 4431.25, 4437.50, 4443.75
];

const UP = '#00a800';
const DOWN = '#d80000';
const FLAT = '#ffff00';
const CONDENSED = "'DejaVu Sans Condensed', 'Liberation Sans Narrow', 'DejaVu Sans', sans-serif";

function candleColor(i) {
    if (closes[i] > opens[i]) return UP;
    if (closes[i] < opens[i]) return DOWN;
    return FLAT;
}

const bodies = opens.map((o, i) => ({ x: i, y: [o, closes[i]] }));
const wicks = lows.map((l, i) => ({ x: i, y: [l, highs[i]] }));
const maPoints = maIndex.map((x, i) => ({ x: x, y: maValue[i] }));

// background, vertical grid, reference level and frame
const decor = {
    id: 'decor',
    beforeDraw(chart) {
        const ctx = chart.ctx;
        ctx.save();
        ctx.fillStyle = '#000';
        ctx.fillRect(0, 0, chart.width, chart.height);
        ctx.restore();
    },
    beforeDatasetsDraw(chart) {
        const { ctx, chartArea: a, scales: { x, y } } = chart;
        ctx.save();
        ctx.lineWidth = 1;
        xTickPos.forEach((v, i) => {
            const px = Math.round(x.getPixelForValue(v)) + 0.5;
            if (sessionCloseLabels.includes(xTickLabels[i])) {
                ctx.strokeStyle = '#5a5a5a';
                ctx.setLineDash([7, 3]);
            } else {
                ctx.strokeStyle = '#3a3a3a';
                ctx.setLineDash([2, 3]);
            }
            ctx.beginPath();
            ctx.moveTo(px, a.top);
            ctx.lineTo(px, a.bottom);
            ctx.stroke();
        });

        const ry = Math.round(y.getPixelForValue(refLevel)) + 0.5;
        ctx.strokeStyle = '#707070';
        ctx.setLineDash([7, 4]);
        ctx.beginPath();
        ctx.moveTo(a.left, ry);
        ctx.lineTo(a.right, ry);
        ctx.stroke();
        ctx.restore();
    },
    afterDraw(chart) {
        const { ctx, chartArea: a } = chart;
        ctx.save();
        ctx.strokeStyle = '#8a8a8a';
        ctx.lineWidth = 1;
        ctx.strokeRect(Math.round(a.left) + 0.5, Math.round(a.top) + 0.5,
            Math.round(a.right - a.left) - 1, Math.round(a.bottom - a.top));
        ctx.restore();
    }
};

new Chart(document.getElementById('chart'), {
    type: 'bar',
    data: {
        datasets: [
            {
                type: 'line',
                data: [
                    { x: upperTrendX[0], y: upperTrendY[0] },
                    { x: upperTrendX[1], y: upperTrendY[1] }
                ],
                borderColor: '#6a2c94',
                borderWidth: 7,
                borderCapStyle: 'round',
                pointRadius: 0,
                clip: false,
                order: 0
            },
            {
                type: 'line',
                data: [
                    { x: lowerTrendX[0], y: lowerTrendY[0] },
                    { x: lowerTrendX[1], y: lowerTrendY[1] }
                ],
                borderColor: '#6a2c94',
                borderWidth: 7,
                borderCapStyle: 'round',
                pointRadius: 0,
                clip: false,
                order: 0
            },
            {
                type: 'line',
                data: maPoints,
                borderColor: '#dcdc00',
                borderWidth: 1.4,
                pointRadius: 0,
                tension: 0,
                fill: false,
                order: 1
            },
            {
                data: bodies,
                backgroundColor: opens.map((_, i) => candleColor(i)),
                barThickness: 5,
                minBarLength: 1.5,
                borderWidth: 0,
                inflateAmount: 0,
                grouped: false,
                order: 2
            },
            {
                data: wicks,
                backgroundColor: '#ffffff',
                barThickness: 1.3,
                minBarLength: 1,
                borderWidth: 0,
                inflateAmount: 0,
                grouped: false,
                order: 3
            }
        ]
    },
    options: {
        responsive: false,
        animation: false,
        devicePixelRatio: 1,
        events: [],
        layout: { padding: { top: 6, left: 0, right: 0, bottom: 0 } },
        plugins: {
            legend: { display: false },
            tooltip: { enabled: false }
        },
        scales: {
            x: {
                type: 'linear',
                min: -0.5,
                max: 405.5,
                offset: false,
                grid: { display: false },
                border: { display: false },
                afterBuildTicks: (scale) => {
                    scale.ticks = xTickPos.map(v => ({ value: v }));
                },
                afterFit: (scale) => { scale.height = 25; },
                ticks: {
                    autoSkip: false,
                    maxRotation: 0,
                    minRotation: 0,
                    padding: 3,
                    callback: (value, index) => xTickLabels[index],
                    color: (ctx) => xTickLabels[ctx.index] && xTickLabels[ctx.index].includes(':') ? '#dcdcdc' : '#ffffff',
                    font: (ctx) => {
                        const isTime = xTickLabels[ctx.index] && xTickLabels[ctx.index].includes(':');
                        return isTime
                            ? { family: CONDENSED, size: 11.5, weight: 'normal' }
                            : { family: CONDENSED, size: 13, weight: 'bold' };
                    }
                }
            },
            y: {
                position: 'right',
                min: 4105.0,
                max: 4448.2,
                grid: {
                    color: '#383838',
                    tickColor: '#a0a0a0',
                    tickLength: 4,
                    tickBorderDash: []
                },
                border: { display: false, dash: [2, 3] },
                afterBuildTicks: (scale) => {
                    scale.ticks = yTickValues.map(v => ({ value: v }));
                },
                afterFit: (scale) => { scale.width = 60; },
                ticks: {
                    padding: 3,
                    color: '#ffffff',
                    font: { family: "'DejaVu Sans', sans-serif", size: 11 },
                    callback: (v) => Number(v).toFixed(2)
                }
            }
        }
    },
    plugins: [decor]
});
</script>
</body>
</html>
